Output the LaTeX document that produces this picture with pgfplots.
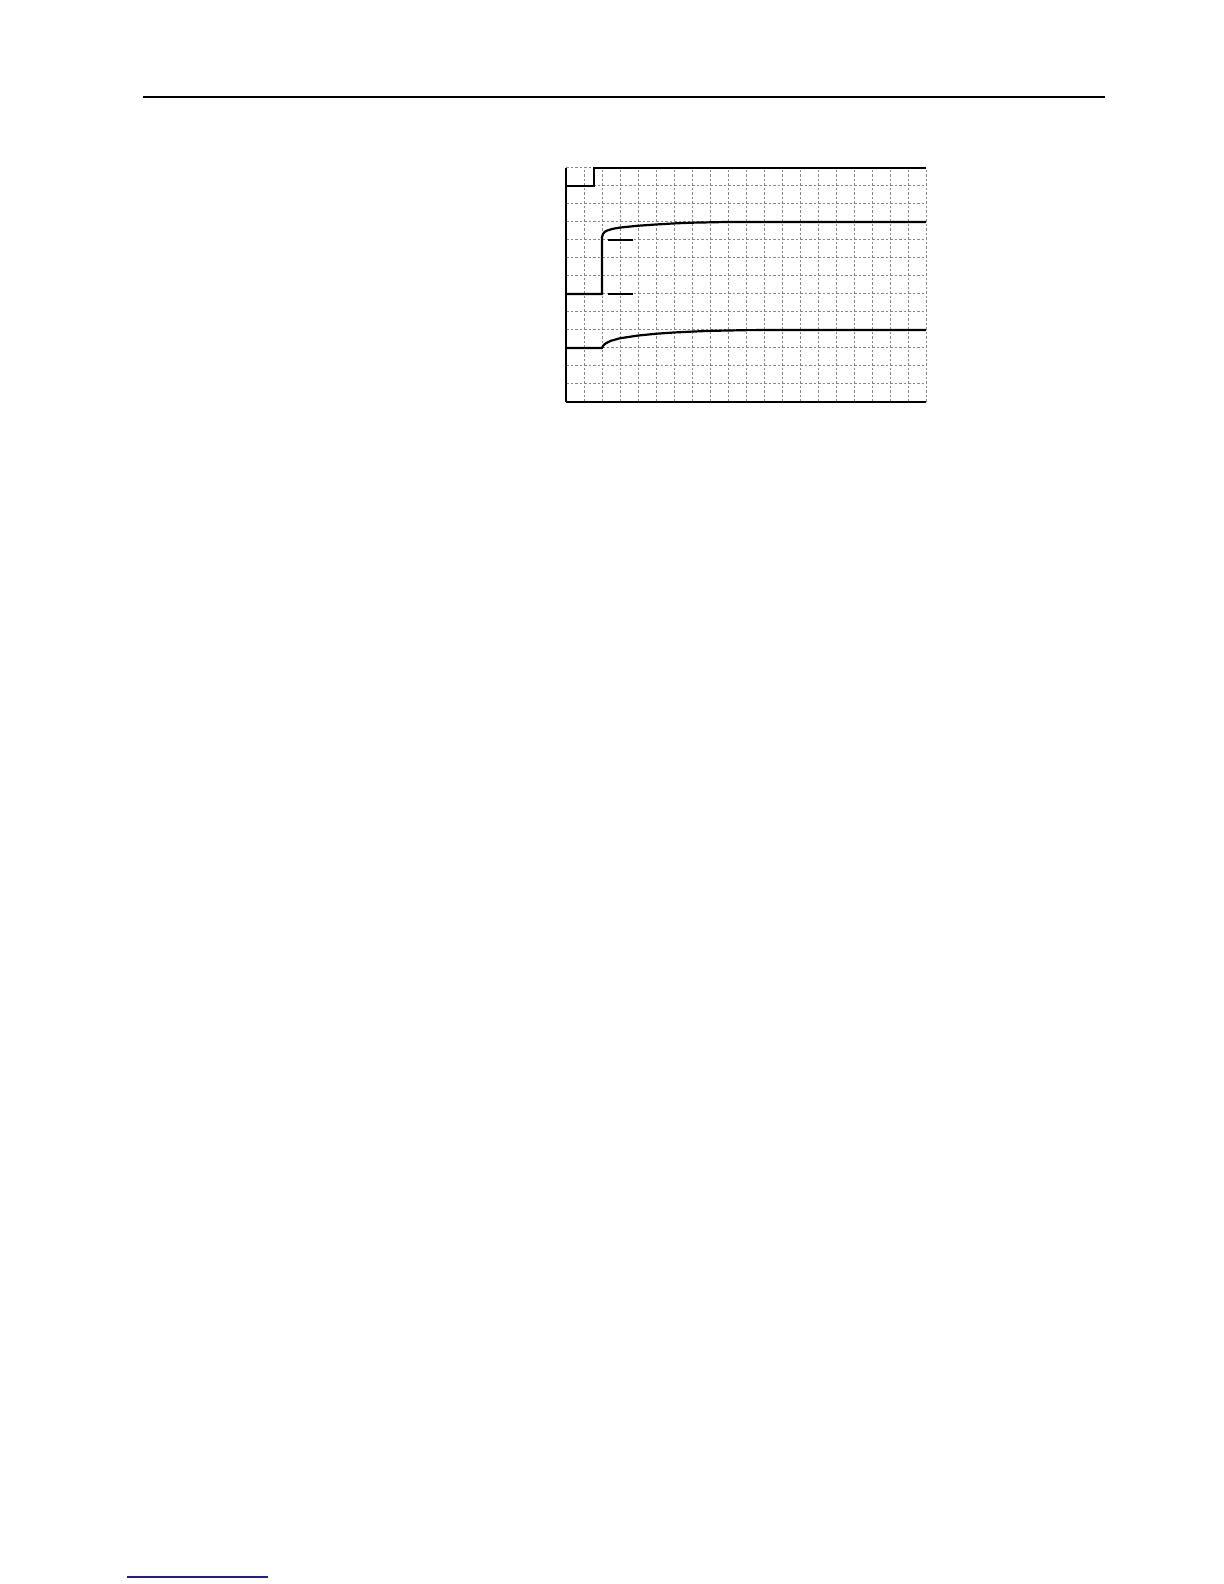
\documentclass[border=0pt]{standalone}
\usepackage{pgfplots}
\pgfplotsset{compat=1.18}
\definecolor{gridgray}{RGB}{135,135,135}
\definecolor{footblue}{RGB}{30,30,150}
\begin{document}
\begin{tikzpicture}[x=1bp,y=1bp]
\path[use as bounding box,fill=white] (0,0) rectangle (612,792);
% page rule
\draw[line width=1.1bp,black] (71.5,743.5) -- (552.5,743.5);
% footer line
\draw[line width=0.6bp,footblue] (63.5,3.5) -- (134,3.5);
\begin{axis}[
  at={(283bp,591bp)}, anchor=south west,
  width=180bp, height=117bp, scale only axis,
  xmin=0, xmax=20, ymin=0, ymax=13,
  xtick={0,...,20}, ytick={0,...,13},
  xticklabels={}, yticklabels={},
  major tick length=0pt,
  axis x line*=bottom, axis y line*=left,
  axis line style={-, black, line width=0.8bp},
  grid=major,
  major grid style={gridgray, line width=0.5bp, dash pattern=on 1.4bp off 0.85bp},
  clip=false,
]
\addplot[black, line width=1.1bp] coordinates {(0,12) (1.55,12) (1.55,13) (20,13)};
\addplot[black, line width=1.1bp] coordinates {
(0,6) (2,6) (2,9.15) (2.05,9.33) (2.15,9.45) (2.3,9.53) (2.6,9.62) (3,9.69)
(4,9.79) (5,9.86) (6,9.92) (7,9.96) (8,9.98) (9,10) (20,10)};
\addplot[black, line width=1.1bp] coordinates {
(0,3) (2,3) (2.05,3.1) (2.12,3.19) (2.25,3.28) (2.5,3.4) (3,3.54) (4,3.69)
(5,3.79) (6,3.86) (7,3.91) (8,3.95) (9,3.97) (10,3.99) (12,4) (20,4)};
\addplot[black, line width=0.6bp] coordinates {(2.35,9) (3.74,9)};
\addplot[black, line width=0.6bp] coordinates {(2.35,6) (3.74,6)};
\end{axis}
\end{tikzpicture}
\end{document}
